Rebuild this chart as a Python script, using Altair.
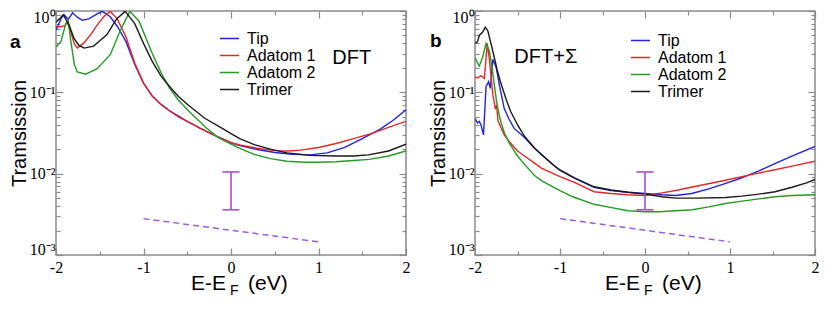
import altair as alt
import pandas as pd

SERIES = ["Tip", "Adatom 1", "Adatom 2", "Trimer"]
COLORS = ["#2323dc", "#e42828", "#259a25", "#1a1a1a"]

# ---------------- panel a : DFT ----------------
a_tip_E = [-2.0, -1.944, -1.907, -1.86, -1.81, -1.756, -1.70, -1.625, -1.53, -1.47, -1.38, -1.3, -1.2, -1.1, -1.0, -0.9, -0.8, -0.7, -0.6, -0.5, -0.35, -0.2, -0.1, 0.0, 0.1, 0.3, 0.5, 0.7, 0.9, 1.1, 1.3, 1.5, 1.7, 1.85, 2.0]
a_tip_T = [0.58, 0.80, 0.90, 0.79, 0.95, 0.84, 0.77, 0.80, 0.92, 0.99, 0.85, 0.65, 0.42, 0.22, 0.13, 0.09, 0.071, 0.059, 0.051, 0.044, 0.036, 0.030, 0.027, 0.024, 0.0222, 0.0198, 0.0182, 0.0173, 0.017, 0.018, 0.021, 0.027, 0.035, 0.045, 0.061]

a_ad1_E = [-2.0, -1.944, -1.90, -1.87, -1.83, -1.79, -1.756, -1.73, -1.68, -1.60, -1.53, -1.45, -1.38, -1.3, -1.2, -1.1, -1.0, -0.9, -0.8, -0.7, -0.6, -0.5, -0.35, -0.2, -0.1, 0.0, 0.1, 0.3, 0.5, 0.65, 0.8, 1.0, 1.2, 1.4, 1.6, 1.8, 2.0]
a_ad1_T = [0.64, 0.64, 0.66, 0.72, 0.55, 0.39, 0.35, 0.37, 0.405, 0.52, 0.67, 0.86, 0.99, 0.80, 0.48, 0.23, 0.13, 0.09, 0.071, 0.059, 0.050, 0.044, 0.036, 0.030, 0.0268, 0.024, 0.0225, 0.0205, 0.0192, 0.019, 0.0195, 0.021, 0.0235, 0.027, 0.031, 0.037, 0.044]

a_ad2_E = [-2.0, -1.944, -1.888, -1.86, -1.83, -1.79, -1.756, -1.66, -1.53, -1.38, -1.27, -1.157, -1.05, -1.0, -0.9, -0.8, -0.7, -0.6, -0.483, -0.3, -0.15, -0.034, 0.1, 0.266, 0.45, 0.64, 0.85, 1.0, 1.2, 1.4, 1.58, 1.8, 2.0]
a_ad2_T = [0.36, 0.42, 0.70, 0.77, 0.42, 0.22, 0.178, 0.167, 0.195, 0.29, 0.56, 0.99, 0.75, 0.55, 0.30, 0.175, 0.112, 0.080, 0.059, 0.038, 0.028, 0.024, 0.0205, 0.0173, 0.0153, 0.0142, 0.0138, 0.0138, 0.014, 0.0145, 0.015, 0.0165, 0.019]

a_tri_E = [-2.0, -1.96, -1.918, -1.85, -1.794, -1.74, -1.68, -1.57, -1.50, -1.42, -1.307, -1.21, -1.1, -1.0, -0.9, -0.8, -0.7, -0.6, -0.483, -0.3, -0.1, 0.0, 0.1, 0.266, 0.45, 0.64, 0.9, 1.2, 1.4, 1.57, 1.8, 2.0]
a_tri_T = [0.73, 0.80, 0.90, 0.67, 0.46, 0.38, 0.35, 0.37, 0.43, 0.51, 0.80, 0.99, 0.70, 0.40, 0.24, 0.158, 0.117, 0.089, 0.069, 0.048, 0.036, 0.031, 0.027, 0.0228, 0.020, 0.018, 0.0168, 0.0165, 0.0165, 0.017, 0.019, 0.023]

# ---------------- panel b : DFT+Sigma ----------------
b_tip_E = [-2.0, -1.97, -1.95, -1.93, -1.90, -1.87, -1.84, -1.82, -1.79, -1.75, -1.71, -1.656, -1.6, -1.54, -1.42, -1.3, -1.22, -1.07, -1.0, -0.83, -0.6, -0.4, -0.2, 0.0, 0.2, 0.36, 0.55, 0.75, 0.95, 1.14, 1.34, 1.534, 1.75, 2.0]
b_tip_T = [0.0475, 0.042, 0.044, 0.040, 0.030, 0.118, 0.135, 0.112, 0.255, 0.20, 0.118, 0.063, 0.047, 0.036, 0.028, 0.0205, 0.0172, 0.0125, 0.011, 0.0088, 0.0068, 0.0062, 0.0059, 0.0057, 0.0055, 0.0054, 0.0057, 0.0065, 0.0076, 0.0089, 0.0108, 0.0134, 0.0168, 0.0216]

b_ad1_E = [-2.0, -1.97, -1.93, -1.89, -1.856, -1.83, -1.79, -1.76, -1.745, -1.73, -1.70, -1.656, -1.6, -1.5, -1.417, -1.3, -1.22, -1.0, -0.83, -0.6, -0.4, -0.2, 0.0, 0.2, 0.36, 0.6, 0.948, 1.26, 1.5, 1.73, 2.0]
b_ad1_T = [0.154, 0.15, 0.16, 0.148, 0.40, 0.25, 0.094, 0.062, 0.070, 0.045, 0.038, 0.030, 0.025, 0.019, 0.0165, 0.0135, 0.0117, 0.0092, 0.0078, 0.0060, 0.0057, 0.0055, 0.0054, 0.0058, 0.0062, 0.0070, 0.0083, 0.0098, 0.011, 0.0124, 0.0142]

b_ad2_E = [-2.0, -1.95, -1.91, -1.87, -1.83, -1.79, -1.75, -1.73, -1.70, -1.656, -1.6, -1.5, -1.417, -1.3, -1.22, -1.0, -0.85, -0.6, -0.44, -0.2, 0.0, 0.166, 0.36, 0.557, 0.75, 0.948, 1.14, 1.34, 1.53, 1.73, 2.0]
b_ad2_T = [0.266, 0.21, 0.27, 0.40, 0.32, 0.17, 0.082, 0.062, 0.045, 0.032, 0.024, 0.0165, 0.013, 0.0095, 0.0082, 0.0062, 0.0052, 0.0042, 0.0039, 0.0035, 0.0034, 0.0034, 0.0035, 0.0036, 0.0039, 0.0043, 0.0046, 0.0049, 0.0052, 0.0054, 0.0055]

b_tri_E = [-2.0, -1.97, -1.95, -1.91, -1.88, -1.85, -1.79, -1.74, -1.695, -1.63, -1.58, -1.5, -1.42, -1.3, -1.22, -1.07, -1.0, -0.83, -0.6, -0.4, -0.2, 0.0, 0.2, 0.36, 0.6, 0.95, 1.14, 1.34, 1.53, 1.73, 1.9, 2.0]
b_tri_T = [0.40, 0.42, 0.50, 0.55, 0.63, 0.575, 0.32, 0.19, 0.129, 0.08, 0.058, 0.040, 0.029, 0.0207, 0.0173, 0.0126, 0.0111, 0.0089, 0.0069, 0.0063, 0.0059, 0.0056, 0.0052, 0.0050, 0.0050, 0.0051, 0.0053, 0.0056, 0.0060, 0.0068, 0.0077, 0.0085]

# error bar and dashed reference line (same in both panels)
ERR_E = [0.0]
ERR_LO = [0.0036]
ERR_HI = [0.0105]
DASH_E = [-1.0, 1.0]
DASH_T = [0.0028, 0.00145]

# axes
X_MAJOR = [-2, -1, 0, 1, 2]
X_MAJOR_LABELS = ["-2", "-1", "0", "1", "2"]
X_MINOR = [-1.5, -0.5, 0.5, 1.5]
Y_MAJOR = [0.001, 0.01, 0.1, 1]
Y_MAJOR_LABELS = ["10⁻³", "10⁻²", "10⁻¹", "10⁰"]
Y_MINOR = [0.002, 0.003, 0.004, 0.005, 0.006, 0.007, 0.008, 0.009,
           0.02, 0.03, 0.04, 0.05, 0.06, 0.07, 0.08, 0.09,
           0.2, 0.3, 0.4, 0.5, 0.6, 0.7, 0.8, 0.9]

AX = "#8a8a8a"
SANS = "Liberation Sans"
SERIF = "Liberation Serif"


def curves_df(pairs):
    rows = []
    for name, (es, ts) in zip(SERIES, pairs):
        for e, t in zip(es, ts):
            rows.append({"series": name, "E": e, "T": t})
    return pd.DataFrame(rows)


x_label_expr = "[" + ",".join("'%s'" % s for s in X_MAJOR_LABELS) + "][indexof([" + ",".join(str(v) for v in X_MAJOR) + "], datum.value)]"
y_label_expr = "[" + ",".join("'%s'" % s for s in Y_MAJOR_LABELS) + "][round(log(datum.value)/LN10) + 3]"
y_label_offset_expr = "datum.value > 0.5 ? 6 : (datum.value < 0.002 ? -6 : 0)"


def tick_axis(orient, values, size, **kw):
    return alt.Axis(orient=orient, values=values, tickSize=size, offset=-size,
                    domain=False, grid=False, tickColor=AX, tickWidth=1.2,
                    labels=False, title=None, **kw)


def panel(df, width, height, leg_x, leg_y, letter, letter_T, letter_dx, tag, tag_E, tag_T):
    xs = alt.Scale(domain=[-2, 2], nice=False, zero=False, padding=0)
    ys = alt.Scale(type="log", domain=[0.001, 1], nice=False, padding=0)

    def X(axis):
        return alt.X("E:Q", scale=xs, axis=axis)

    def Y(axis, field="T:Q"):
        return alt.Y(field, scale=ys, axis=axis)

    bottom_major = alt.Axis(orient="bottom", values=X_MAJOR, tickSize=7, offset=-7,
                            domain=False, grid=False, tickColor=AX, tickWidth=1.2,
                            labelExpr=x_label_expr, labelFont=SERIF, labelFontSize=16,
                            labelColor="black", labelPadding=4, labelFlush=False,
                            labelOverlap=False, title=None)
    left_major = alt.Axis(orient="left", values=Y_MAJOR, tickSize=7, offset=-7,
                          domain=False, grid=False, tickColor=AX, tickWidth=1.2,
                          labelExpr=y_label_expr, labelFont=SERIF, labelFontSize=16,
                          labelColor="black", labelPadding=1, labelFlush=False,
                          labelOffset={"condition": [
                              {"test": "datum.value > 0.5", "value": 6},
                              {"test": "datum.value < 0.002", "value": -6}],
                              "value": 0},
                          title="Tramsission", titleFont=SANS, titleFontSize=20,
                          titleFontWeight="normal", titleColor="black", titlePadding=0)

    lines = alt.Chart(df).mark_line(strokeWidth=1.4, clip=True).encode(
        x=X(bottom_major),
        y=Y(left_major),
        color=alt.Color("series:N", sort=SERIES,
                        scale=alt.Scale(domain=SERIES, range=COLORS),
                        legend=alt.Legend(orient="none", legendX=leg_x, legendY=leg_y,
                                          title=None, symbolType="M-1.27,0H1.27",
                                          symbolSize=225, symbolStrokeWidth=1.5,
                                          labelFont=SANS, labelFontSize=16,
                                          labelColor="black", rowPadding=0,
                                          padding=0, labelOffset=9)),
    )
    ghost = alt.Chart(df).mark_point(opacity=0, size=1)
    l1 = ghost.encode(x=X(tick_axis("bottom", X_MINOR, 4)), y=Y(tick_axis("left", Y_MINOR, 4)))
    l2 = ghost.encode(x=X(tick_axis("top", X_MAJOR, 7)), y=Y(tick_axis("right", Y_MAJOR, 7)))
    l3 = ghost.encode(x=X(tick_axis("top", X_MINOR, 4)), y=Y(tick_axis("right", Y_MINOR, 4)))

    err = pd.DataFrame({"E": ERR_E, "lo": ERR_LO, "hi": ERR_HI})
    err_rule = alt.Chart(err).mark_rule(color="#a04ed2", strokeWidth=1.6).encode(
        x=X(None), y=Y(None, "lo:Q"), y2="hi:Q")
    err_cap_lo = alt.Chart(err).mark_tick(orient="horizontal", size=17, thickness=1.6,
                                         color="#a04ed2", opacity=1).encode(
        x=X(None), y=Y(None, "lo:Q"))
    err_cap_hi = alt.Chart(err).mark_tick(orient="horizontal", size=17, thickness=1.6,
                                         color="#a04ed2", opacity=1).encode(
        x=X(None), y=Y(None, "hi:Q"))

    dash = alt.Chart(pd.DataFrame({"E": DASH_E, "T": DASH_T})).mark_line(
        color="#9a5ee2", strokeWidth=1.5, strokeDash=[6, 4]).encode(x=X(None), y=Y(None))

    lab = pd.DataFrame({"E": [-2.0], "T": [letter_T], "t": [letter]})
    letter_txt = alt.Chart(lab).mark_text(font=SANS, fontSize=19, fontWeight="bold",
                                          align="left", baseline="alphabetic",
                                          dx=letter_dx, color="black").encode(
        x=X(None), y=Y(None), text="t:N")
    tagd = pd.DataFrame({"E": [tag_E], "T": [tag_T], "t": [tag]})
    tag_txt = alt.Chart(tagd).mark_text(font=SANS, fontSize=20, align="center",
                                        baseline="middle", color="black").encode(
        x=X(None), y=Y(None), text="t:N")

    xt = pd.DataFrame({"E": [0.0], "T": [0.001], "a": ["E-E"], "b": ["F"], "c": ["(eV)"]})
    xt1 = alt.Chart(xt).mark_text(font=SANS, fontSize=21, align="right", baseline="alphabetic",
                                  dx=-5, dy=35, color="black").encode(x=X(None), y=Y(None), text="a:N")
    xt2 = alt.Chart(xt).mark_text(font=SANS, fontSize=14, align="left", baseline="alphabetic",
                                  dx=-1, dy=40, color="black").encode(x=X(None), y=Y(None), text="b:N")
    xt3 = alt.Chart(xt).mark_text(font=SANS, fontSize=21, align="left", baseline="alphabetic",
                                  dx=17, dy=35, color="black").encode(x=X(None), y=Y(None), text="c:N")

    return alt.layer(lines, l1, l2, l3, dash, err_rule, err_cap_lo, err_cap_hi,
                     letter_txt, tag_txt, xt1, xt2, xt3).resolve_axis(
        x="independent", y="independent").properties(width=width, height=height)


df_a = curves_df([(a_tip_E, a_tip_T), (a_ad1_E, a_ad1_T), (a_ad2_E, a_ad2_T), (a_tri_E, a_tri_T)])
df_b = curves_df([(b_tip_E, b_tip_T), (b_ad1_E, b_ad1_T), (b_ad2_E, b_ad2_T), (b_tri_E, b_tri_T)])

pa = panel(df_a, 350, 244, 165, 19, "a", 0.353, -46, "DFT", 1.38, 0.268)
pb = panel(df_b, 340, 244, 157, 21, "b", 0.366, -45, "DFT+Σ", -1.167, 0.271)

chart = alt.hconcat(pa, pb, spacing=16).resolve_scale(
    x="independent", y="independent", color="independent").resolve_legend(
    color="independent").properties(padding=0, background="white").configure_view(
    stroke=AX, strokeWidth=1.5)

chart.save("out.html", embed_options={"renderer": "svg", "actions": False})
